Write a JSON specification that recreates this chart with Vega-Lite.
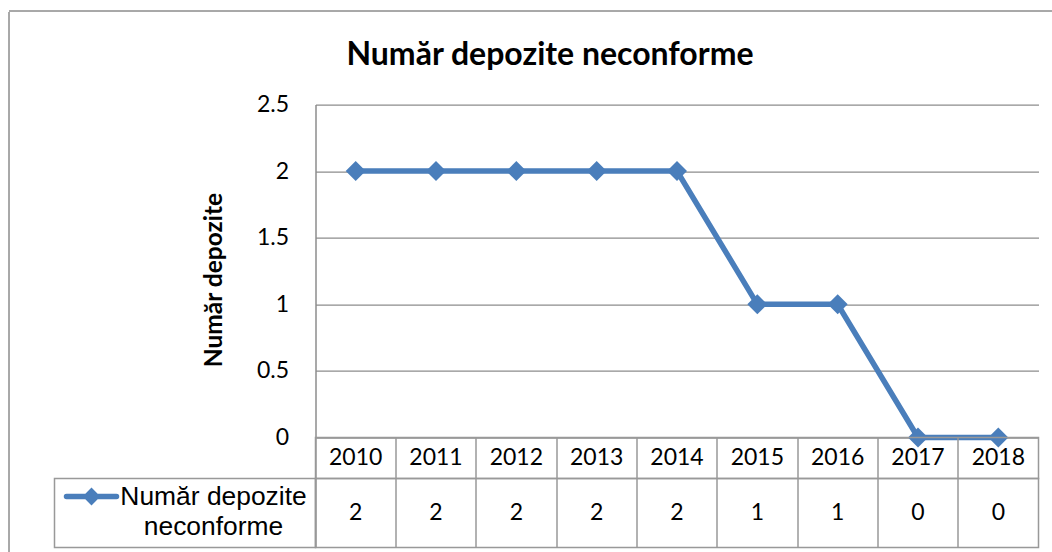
{
  "$schema": "https://vega.github.io/schema/vega-lite/v6.json",
  "padding": {"left": 7.5, "top": 9.5, "right": 0, "bottom": 0},
  "background": "white",
  "config": {
    "view": {"stroke": null},
    "font": "Lato",
    "concat": {"spacing": 0}
  },
  "datasets": {
    "d": [
      {"year": "2010", "value": 2, "series": "Număr depozite neconforme"},
      {"year": "2011", "value": 2, "series": "Număr depozite neconforme"},
      {"year": "2012", "value": 2, "series": "Număr depozite neconforme"},
      {"year": "2013", "value": 2, "series": "Număr depozite neconforme"},
      {"year": "2014", "value": 2, "series": "Număr depozite neconforme"},
      {"year": "2015", "value": 1, "series": "Număr depozite neconforme"},
      {"year": "2016", "value": 1, "series": "Număr depozite neconforme"},
      {"year": "2017", "value": 0, "series": "Număr depozite neconforme"},
      {"year": "2018", "value": 0, "series": "Număr depozite neconforme"}
    ]
  },
  "bounds": "flush",
  "spacing": 0,
  "vconcat": [
    {
      "width": 1100, "height": 0.01,
      "data": {"values": []},
      "mark": "point",
      "view": {"stroke": "#8C8C8C", "strokeWidth": 1}
    },
    {
      "spacing": 0,
      "bounds": "flush",
      "hconcat": [
        {
          "width": 0.01, "height": 600,
          "data": {"values": []},
          "mark": "point",
          "view": {"stroke": "#8C8C8C", "strokeWidth": 1}
        },
        {
          "columns": 3,
          "spacing": 0,
          "bounds": "flush",
          "resolve": {"legend": {"color": "independent"}},
          "concat": [
            {"width": 45, "height": 93, "data": {"values": []}, "mark": "point"},
            {"width": 261, "height": 93, "data": {"values": []}, "mark": "point"},
            {"width": 723, "height": 93, "data": {"values": []}, "mark": "point"},
            {"width": 45, "height": 333, "data": {"values": []}, "mark": "point"},
            {"width": 261, "height": 333, "data": {"values": []}, "mark": "point"},
            {
              "width": 723, "height": 333,
              "title": {"text": "Număr depozite neconforme", "font": "Lato", "fontSize": 32, "fontWeight": "bold", "color": "black", "anchor": "middle", "frame": "group", "offset": 22, "dx": -127},
              "data": {"name": "d"},
              "encoding": {
                "x": {"field": "year", "type": "ordinal", "scale": {"type": "point", "padding": 0.5}, "axis": null},
                "y": {
                  "field": "value", "type": "quantitative",
                  "scale": {"domain": [0, 2.5]},
                  "axis": {
                    "values": [0, 0.5, 1, 1.5, 2, 2.5], "format": ".1~f",
                    "title": "Număr depozite", "titleFont": "Lato", "titleFontSize": 24.5, "titleFontWeight": "bold", "titleColor": "black", "titlePadding": 30, "titleY": 175,
                    "labelFont": "Lato", "labelFontSize": 23, "labelColor": "black", "labelPadding": 27, "labelFlush": false, "labelOverlap": false,
                    "ticks": false, "tickSize": 0,
                    "domainColor": "#8C8C8C", "domainWidth": 1.5,
                    "grid": true, "gridColor": "#8C8C8C", "gridWidth": 1.25
                  }
                },
                "color": {
                  "field": "series", "type": "nominal",
                  "scale": {"range": ["#4A7EBB"]},
                  "legend": {
                    "orient": "none", "legendX": -252, "legendY": 364,
                    "title": null, "padding": 0, "offset": 0,
                    "symbolType": "M-1,0L1,0M0,-0.2L0.2,0L0,0.2L-0.2,0Z",
                    "symbolSize": 2500, "symbolStrokeWidth": 5.5,
                    "symbolFillColor": "#4A7EBB", "symbolStrokeColor": "#4A7EBB",
                    "labelFont": "Liberation Sans", "labelFontSize": 26.4, "labelColor": "black", "labelLimit": 0,
                    "labelAlign": "center", "labelOffset": 94,
                    "labelExpr": "['Număr depozite', 'neconforme']",
                    "encode": {
                      "symbols": {"update": {"fill": {"value": "#4A7EBB"}, "stroke": {"value": "#4A7EBB"}, "strokeCap": {"value": "round"}, "strokeWidth": {"value": 5.5}}},
                      "labels": {"update": {"lineHeight": {"value": 30}}}
                    }
                  }
                }
              },
              "layer": [
                {"mark": {"type": "line", "strokeWidth": 5.5}},
                {"mark": {"type": "point", "shape": "diamond", "filled": true, "size": 400, "opacity": 1}}
              ]
            },
            {"width": 45, "height": 41, "data": {"values": []}, "mark": "point"},
            {"width": 261, "height": 41, "data": {"values": []}, "mark": "point"},
            {
              "width": 723, "height": 41,
              "data": {"name": "d"},
              "view": {"stroke": "#999999", "strokeWidth": 1.5},
              "mark": {"type": "text", "font": "Lato", "fontSize": 23, "color": "black"},
              "encoding": {
                "x": {"field": "year", "type": "ordinal", "scale": {"type": "band", "paddingInner": 0, "paddingOuter": 0},
                      "axis": {"grid": true, "gridColor": "#999999", "gridWidth": 1.5, "bandPosition": 0, "labels": false, "ticks": false, "domain": false, "title": null}},
                "text": {"field": "year"}
              }
            },
            {"width": 45, "height": 69, "data": {"values": []}, "mark": "point"},
            {"width": 261, "height": 69, "data": {"values": []}, "mark": "point", "view": {"stroke": "#999999", "strokeWidth": 1.5}},
            {
              "width": 723, "height": 69,
              "data": {"name": "d"},
              "view": {"stroke": "#999999", "strokeWidth": 1.5},
              "mark": {"type": "text", "font": "Lato", "fontSize": 23, "color": "black"},
              "encoding": {
                "x": {"field": "year", "type": "ordinal", "scale": {"type": "band", "paddingInner": 0, "paddingOuter": 0},
                      "axis": {"grid": true, "gridColor": "#999999", "gridWidth": 1.5, "bandPosition": 0, "labels": false, "ticks": false, "domain": false, "title": null}},
                "text": {"field": "value", "type": "quantitative"}
              }
            }
          ]
        }
      ]
    }
  ]
}
